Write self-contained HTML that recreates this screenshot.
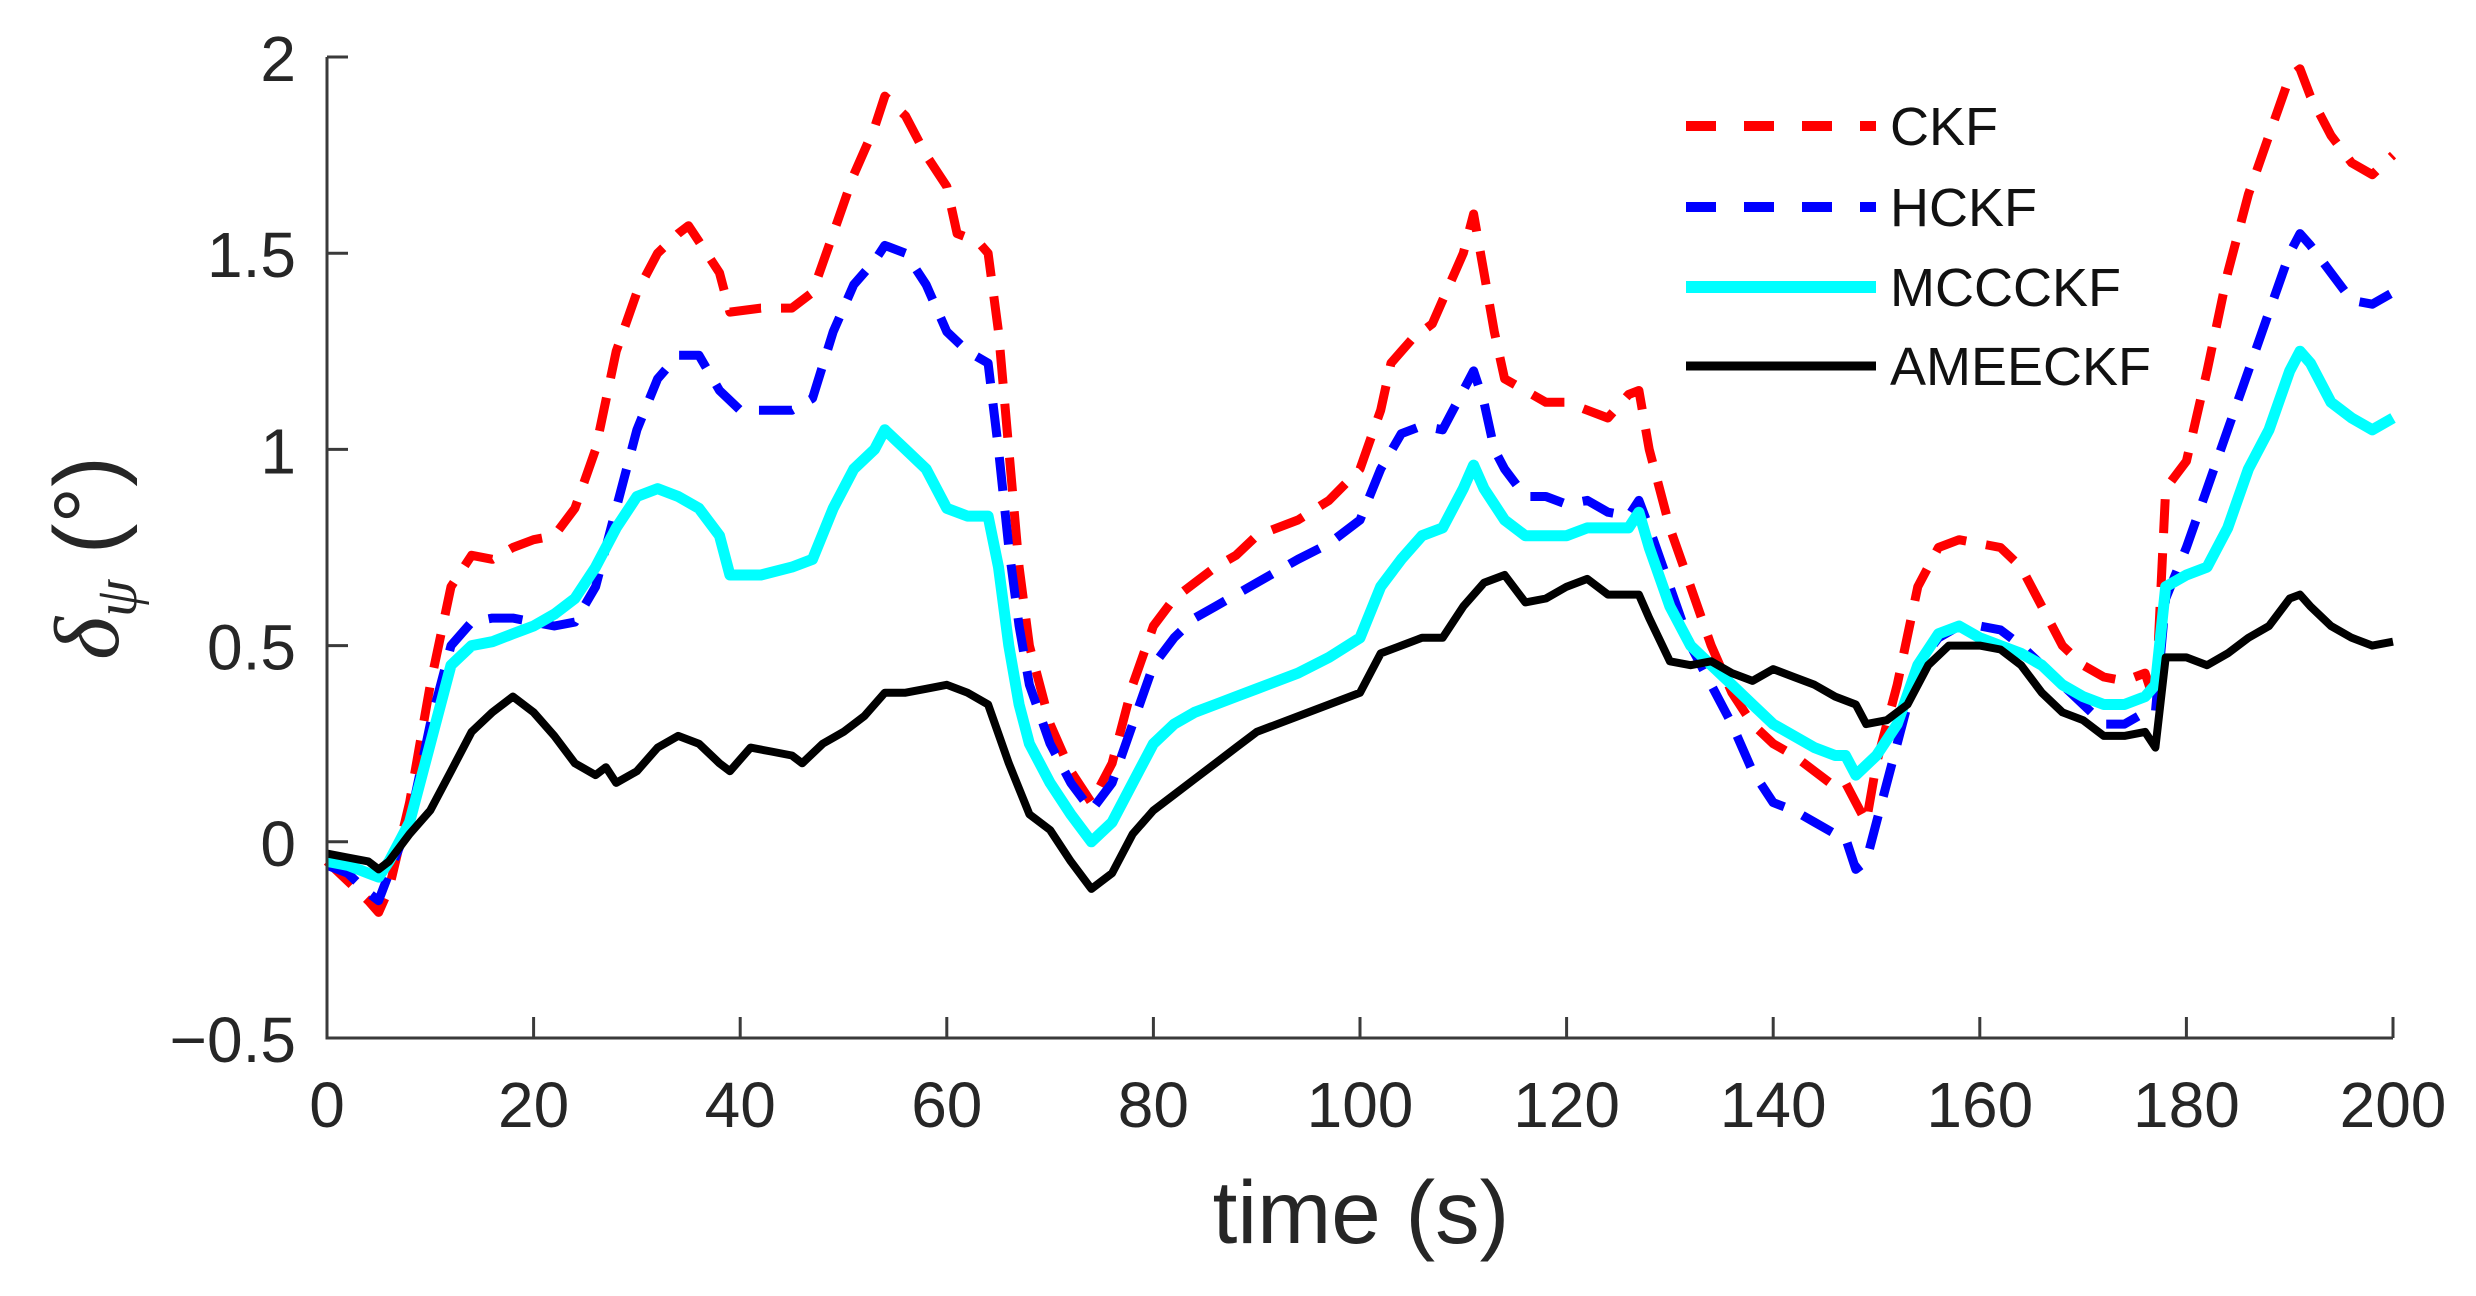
<!DOCTYPE html>
<html><head><meta charset="utf-8"><style>
html,body{margin:0;padding:0;background:#fff;}
svg{display:block;font-family:"Liberation Sans",Arial,sans-serif;}
</style></head><body>
<svg id="chart" width="2476" height="1296" viewBox="0 0 2476 1296" xmlns="http://www.w3.org/2000/svg">
<g id="plot"></g>
<g id="axes"></g>
<text x="1361" y="1243" font-size="89" text-anchor="middle" fill="#262626">time (s)</text>
<text transform="translate(118,558) rotate(-90)" font-size="92" text-anchor="middle" fill="#262626"><tspan font-family="Liberation Serif,serif" font-style="italic">δ</tspan><tspan font-family="Liberation Serif,serif" font-style="italic" font-size="60" dy="18">ψ</tspan><tspan dy="-18"> (°)</tspan></text>
<g id="legend"></g>
</svg>
<script>
const xTicks = [0,20,40,60,80,100,120,140,160,180,200];
const yTicks = [-0.5,0,0.5,1,1.5,2];
const yTickLabels = ["\u22120.5","0","0.5","1","1.5","2"];
const seriesNames = ["CKF","HCKF","MCCCKF","AMEECKF"];

const ckfT = [0,2,4,5,6,8,10,12,14,16,18,20,22,24,26,28,30,32,34,35,36,38,39,42,45,47,49,51,53,54,56,58,60,61,63,64,65,66,67,68,70,72,74,76,78,80,82,84,86,88,90,94,97,100,102,103,105,107,108,110,111,112,113,114,116,118,120,122,124,126,127,128,130,132,134,136,138,140,142,144,146,147,148,149,150,152,154,156,158,160,162,164,166,168,170,172,174,176,177,178,180,182,184,186,188,190,191,192,194,196,198,200];
const ckfV = [-0.05,-0.1,-0.15,-0.18,-0.12,0.1,0.4,0.65,0.73,0.72,0.75,0.77,0.78,0.85,1.0,1.25,1.4,1.5,1.55,1.57,1.53,1.45,1.35,1.36,1.36,1.4,1.55,1.7,1.82,1.9,1.85,1.75,1.67,1.55,1.53,1.5,1.3,1.0,0.7,0.5,0.3,0.18,0.1,0.2,0.4,0.55,0.62,0.66,0.7,0.73,0.78,0.82,0.87,0.95,1.1,1.22,1.28,1.32,1.38,1.5,1.6,1.45,1.3,1.18,1.15,1.12,1.12,1.1,1.08,1.14,1.15,1.0,0.8,0.65,0.5,0.38,0.3,0.25,0.22,0.18,0.14,0.15,0.1,0.05,0.2,0.4,0.65,0.75,0.77,0.76,0.75,0.7,0.6,0.5,0.45,0.42,0.41,0.43,0.35,0.9,0.97,1.2,1.45,1.65,1.8,1.95,1.97,1.9,1.8,1.73,1.7,1.75];

const hckfT = [0,2,4,5,6,8,10,12,14,16,18,20,22,24,26,28,30,32,34,36,38,40,42,45,47,49,51,53,54,56,58,60,62,64,65,66,67,68,70,72,74,76,78,80,82,84,86,88,90,94,97,100,102,104,106,108,110,111,112,113,114,116,118,120,122,124,126,127,128,130,132,134,136,138,140,142,144,146,147,148,149,150,152,154,156,158,160,162,164,166,168,170,172,174,176,177,178,180,182,184,186,188,190,191,192,194,196,198,200];
const hckfV = [-0.06,-0.08,-0.13,-0.15,-0.08,0.05,0.3,0.5,0.56,0.57,0.57,0.56,0.55,0.56,0.65,0.85,1.05,1.18,1.24,1.24,1.15,1.1,1.1,1.1,1.13,1.3,1.42,1.48,1.52,1.5,1.42,1.3,1.25,1.22,1.0,0.75,0.55,0.4,0.25,0.15,0.08,0.15,0.3,0.45,0.52,0.57,0.6,0.63,0.66,0.72,0.76,0.82,0.95,1.04,1.06,1.05,1.15,1.2,1.12,1.0,0.95,0.88,0.88,0.86,0.87,0.84,0.83,0.87,0.8,0.65,0.5,0.4,0.3,0.18,0.1,0.08,0.05,0.02,0.01,-0.07,-0.05,0.05,0.25,0.45,0.52,0.55,0.55,0.54,0.5,0.45,0.4,0.35,0.3,0.3,0.33,0.33,0.62,0.75,0.9,1.05,1.2,1.35,1.5,1.55,1.52,1.45,1.38,1.37,1.4];

const mccT = [0,2,4,5,6,8,10,12,14,16,18,20,22,24,26,28,30,32,34,36,38,39,42,45,47,49,51,53,54,56,58,60,62,64,65,66,67,68,70,72,74,76,78,80,82,84,86,88,90,94,97,100,102,104,106,108,110,111,112,113,114,116,118,120,122,124,126,127,128,130,132,134,136,138,140,142,144,146,147,148,150,152,154,156,158,160,162,164,166,168,170,172,174,176,177,178,180,182,184,186,188,190,191,192,194,196,198,200];
const mccV = [-0.05,-0.06,-0.08,-0.09,-0.05,0.05,0.25,0.45,0.5,0.51,0.53,0.55,0.58,0.62,0.7,0.8,0.88,0.9,0.88,0.85,0.78,0.68,0.68,0.7,0.72,0.85,0.95,1.0,1.05,1.0,0.95,0.85,0.83,0.83,0.7,0.5,0.35,0.25,0.15,0.07,0.0,0.05,0.15,0.25,0.3,0.33,0.35,0.37,0.39,0.43,0.47,0.52,0.65,0.72,0.78,0.8,0.9,0.96,0.9,0.86,0.82,0.78,0.78,0.78,0.8,0.8,0.8,0.84,0.75,0.6,0.5,0.45,0.4,0.35,0.3,0.27,0.24,0.22,0.22,0.17,0.22,0.3,0.45,0.53,0.55,0.52,0.5,0.48,0.45,0.4,0.37,0.35,0.35,0.37,0.4,0.65,0.68,0.7,0.8,0.95,1.05,1.2,1.25,1.22,1.12,1.08,1.05,1.08];

const ameT = [0,2,4,5,6,8,10,12,14,16,18,20,22,24,26,27,28,30,32,34,36,38,39,41,43,45,46,48,50,52,54,56,58,60,62,64,66,68,70,72,74,76,78,80,82,84,86,88,90,94,97,100,102,104,106,108,110,112,114,116,118,120,122,124,126,127,128,130,132,134,136,138,140,142,144,146,148,149,151,153,155,157,160,162,164,166,168,170,172,174,176,177,178,180,182,184,186,188,190,191,192,194,196,198,200];
const ameV = [-0.03,-0.04,-0.05,-0.07,-0.05,0.02,0.08,0.18,0.28,0.33,0.37,0.33,0.27,0.2,0.17,0.19,0.15,0.18,0.24,0.27,0.25,0.2,0.18,0.24,0.23,0.22,0.2,0.25,0.28,0.32,0.38,0.38,0.39,0.4,0.38,0.35,0.2,0.07,0.03,-0.05,-0.12,-0.08,0.02,0.08,0.12,0.16,0.2,0.24,0.28,0.32,0.35,0.38,0.48,0.5,0.52,0.52,0.6,0.66,0.68,0.61,0.62,0.65,0.67,0.63,0.63,0.63,0.57,0.46,0.45,0.46,0.43,0.41,0.44,0.42,0.4,0.37,0.35,0.3,0.31,0.35,0.45,0.5,0.5,0.49,0.45,0.38,0.33,0.31,0.27,0.27,0.28,0.24,0.47,0.47,0.45,0.48,0.52,0.55,0.62,0.63,0.6,0.55,0.52,0.5,0.51];

const X0=327, X1=2393, Y_TOP=57, Y_BOT=1038;
const xMin=0,xMax=200,yMin=-0.5,yMax=2;
function xs(t){return X0+(t-xMin)/(xMax-xMin)*(X1-X0);}
function ys(v){return Y_BOT-(v-yMin)/(yMax-yMin)*(Y_BOT-Y_TOP);}
const NS="http://www.w3.org/2000/svg";
function mk(tag,attrs,parent){const e=document.createElementNS(NS,tag);for(const k in attrs)e.setAttribute(k,attrs[k]);parent.appendChild(e);return e;}

const plot=document.getElementById('plot');
const styles=[
 {c:"#ff0000",w:9,d:"34 20"},
 {c:"#0000ff",w:9,d:"34 20"},
 {c:"#00ffff",w:11,d:""},
 {c:"#000000",w:8,d:""}
];
const data=[[ckfT,ckfV],[hckfT,hckfV],[mccT,mccV],[ameT,ameV]];
const lineNames=['line-ckf','line-hckf','line-mccckf','line-ameeckf'];
for(let s=0;s<4;s++){
  const T=data[s][0],V=data[s][1];
  let d='';
  for(let i=0;i<T.length;i++){d+=(i?'L':'M')+xs(T[i]).toFixed(1)+' '+ys(V[i]).toFixed(1);}
  const p=mk('path',{d:d,fill:'none',stroke:styles[s].c,'stroke-width':styles[s].w,'stroke-linejoin':'round'},plot);
  if(styles[s].d)p.setAttribute('stroke-dasharray',styles[s].d);
  
  
}

const axes=document.getElementById('axes');
const ax=mk('path',{d:`M${X0} ${Y_TOP}V${Y_BOT}H${X1}`,fill:'none',stroke:'#3a3a3a','stroke-width':3},axes);


xTicks.forEach(t=>{
  const x=xs(t);
  const tk=mk('line',{x1:x,y1:Y_BOT,x2:x,y2:Y_BOT-21,stroke:'#3a3a3a','stroke-width':3},axes);
  
  
  const lb=mk('text',{x:x,y:1127,'font-size':64,'text-anchor':'middle',fill:'#262626'},axes);
  lb.textContent=String(t);
  
  
});
yTicks.forEach((v,i)=>{
  const y=ys(v);
  const tk=mk('line',{x1:X0,y1:y,x2:X0+21,y2:y,stroke:'#3a3a3a','stroke-width':3},axes);
  
  
  const lb=mk('text',{x:296,y:y+24,'font-size':64,'text-anchor':'end',fill:'#262626'},axes);
  lb.textContent=yTickLabels[i];
  
  
});

const legend=document.getElementById('legend');
const legY=[126,207,287,366];
for(let s=0;s<4;s++){
  const ln=mk('line',{x1:1686,y1:legY[s],x2:1876,y2:legY[s],stroke:styles[s].c,'stroke-width':styles[s].w+1},legend);
  if(styles[s].d)ln.setAttribute('stroke-dasharray','30 28');
  
  
  const tx=mk('text',{x:1890,y:legY[s]+19,'font-size':54,fill:'#111'},legend);
  tx.textContent=seriesNames[s];
  
  
}
</script>
</body></html>
